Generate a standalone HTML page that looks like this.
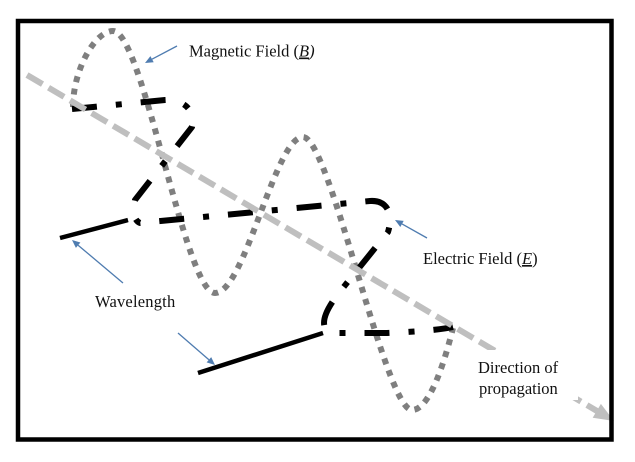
<!DOCTYPE html>
<html>
<head>
<meta charset="utf-8">
<style>
  html, body { margin: 0; padding: 0; background: #ffffff; }
  body { width: 635px; height: 462px; overflow: hidden; }
  svg { display: block; }
  text { font-family: "Liberation Serif", "DejaVu Serif", serif; font-size: 16.5px; fill: #111; }
</style>
</head>
<body>
<svg width="635" height="462" viewBox="0 0 635 462" xmlns="http://www.w3.org/2000/svg">
  <rect x="0" y="0" width="635" height="462" fill="#ffffff"/>

  <!-- Magnetic field (gray dotted) -->
  <path d="M73,107 C73,70 95,31 113,31 C143,31 185,293 215,293 C245,293 275,137 303,137 C330,137 385,410 412,410 C430,410 445,360 453,328"
        fill="none" stroke="#7f7f7f" stroke-width="6" stroke-dasharray="6 6.5" stroke-linecap="butt"/>

  <!-- Electric field (black dash-dot) -->
  <path d="M72,109 L165,100 C183,99 196,110 192,127 L135,200 C133,210 133,220 140,223 L370,201 C386,200 394,212 388,232 L338,294 C330,305 321,318 325,328 C327,332 333,333 340,333 L387,333 C410,332 440,330 453,327"
        fill="none" stroke="#000000" stroke-width="6" stroke-dasharray="25 19 6 19" stroke-linecap="butt" stroke-linejoin="round"/>

  <!-- Wavelength solid lines -->
  <line x1="60" y1="238" x2="128" y2="220" stroke="#000" stroke-width="4.5"/>
  <line x1="198" y1="373" x2="323" y2="333" stroke="#000" stroke-width="4.5"/>

  <!-- Propagation direction (light gray dashed) -->
  <line x1="27" y1="75" x2="597" y2="411" stroke="#bfbfbf" stroke-width="6" stroke-dasharray="18 7"/>
  <polygon points="614,421 592.7,417.7 600.9,403.9" fill="#bfbfbf"/>

  <!-- White label boxes -->
  <rect x="470" y="350" width="108" height="50" fill="#ffffff"/>

  <!-- Blue pointer arrows -->
  <g stroke="#4f7cb0" stroke-width="1.3" fill="none">
    <line x1="177" y1="46" x2="152" y2="59.2"/>
    <line x1="427" y1="238" x2="402" y2="223.9"/>
    <line x1="123" y1="283" x2="78.1" y2="245.2"/>
    <line x1="178" y1="333" x2="208.9" y2="359.8"/>
  </g>
  <g fill="#4f7cb0">
    <polygon points="145,63 150.4,56.1 153.7,62.3"/>
    <polygon points="395,220 403.7,220.9 400.3,227"/>
    <polygon points="72,240 80.4,242.5 75.9,247.9"/>
    <polygon points="215,365 206.6,362.4 211.2,357.1"/>
  </g>

  <!-- Labels -->
  <text x="189" y="56.5">Magnetic Field (<tspan font-style="italic" text-decoration="underline">B</tspan><tspan font-style="italic">)</tspan></text>
  <text x="423" y="264">Electric Field (<tspan font-style="italic" text-decoration="underline">E</tspan>)</text>
  <text x="95" y="307" letter-spacing="0.2">Wavelength</text>
  <text x="478" y="373">Direction of</text>
  <text x="479" y="394">propagation</text>

  <!-- Frame -->
  <rect x="18" y="21" width="593.5" height="418.5" fill="none" stroke="#000" stroke-width="4.5"/>
</svg>
</body>
</html>
